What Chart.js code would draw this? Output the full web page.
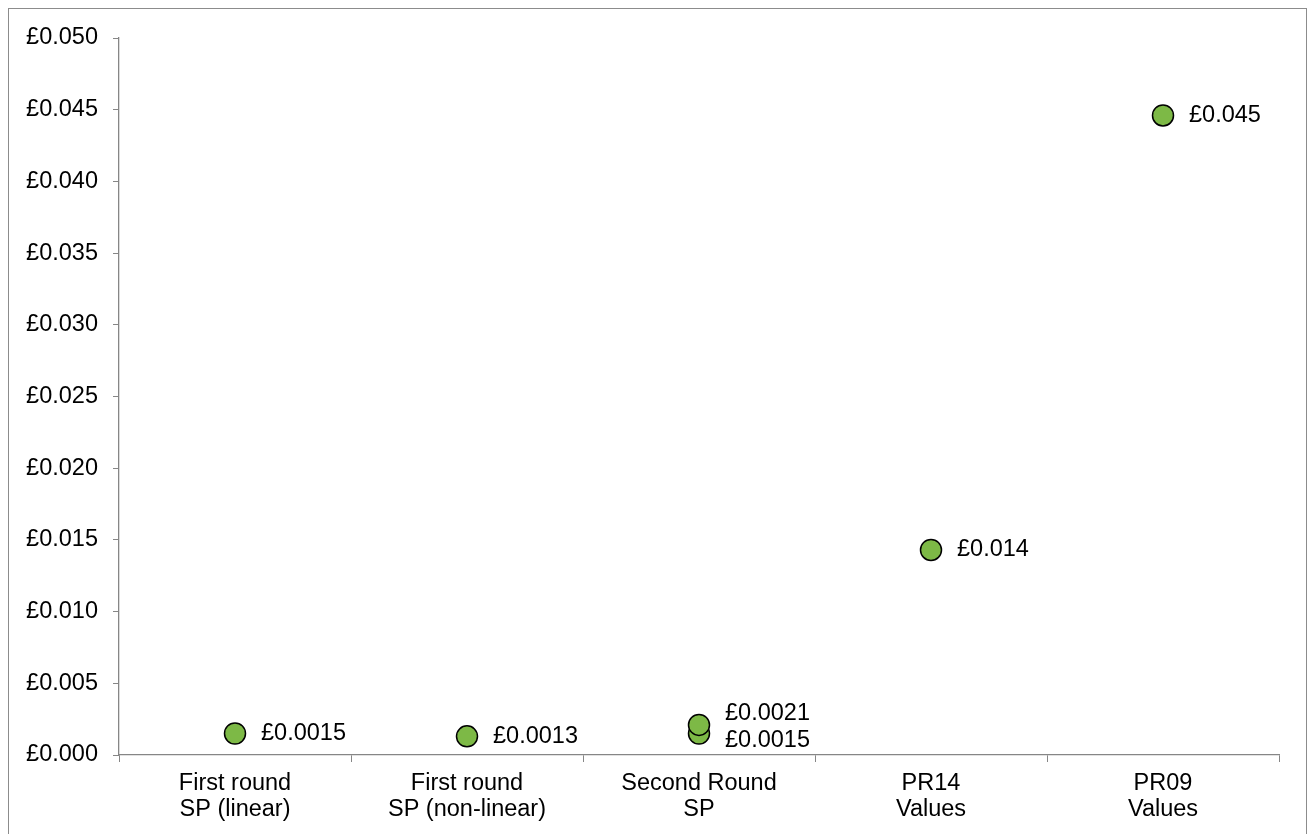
<!DOCTYPE html>
<html>
<head>
<meta charset="utf-8">
<script src="https://cdn.jsdelivr.net/npm/chart.js@4/dist/chart.umd.min.js"></script>
<style>
  html, body { margin: 0; padding: 0; background: #fff; overflow: hidden; }
</style>
</head>
<body>
<canvas id="myChart" width="1309" height="834"></canvas>
<script>
const categories = [
  ['First round', 'SP (linear)'],
  ['First round', 'SP (non-linear)'],
  ['Second Round', 'SP'],
  ['PR14', 'Values'],
  ['PR09', 'Values']
];
const costPerUnit = [0.0015, 0.0013, 0.0021, 0.0143, 0.0446];
const secondRoundLow = [null, null, 0.0015, null, null];
const yTickValues = [0, 0.005, 0.010, 0.015, 0.020, 0.025, 0.030, 0.035, 0.040, 0.045, 0.050];

const FONT = { family: '"Liberation Sans", Arial, sans-serif', size: 23.5 };
const AXIS_GREY = '#868686';

// the two second-round labels sit apart so they don't overlap
const labelNudge = { '0-2': -11, '1-2': 7 };

const pointLabels = {
  id: 'pointLabels',
  beforeDraw(chart) {
    const ctx = chart.ctx;
    ctx.save();
    ctx.strokeStyle = '#8c8c8c';
    ctx.lineWidth = 1;
    ctx.strokeRect(8.5, 8.5, 1298, 1000);
    ctx.restore();
  },
  afterDatasetsDraw(chart) {
    const ctx = chart.ctx;
    ctx.save();
    ctx.font = FONT.size + 'px ' + FONT.family;
    ctx.fillStyle = '#000';
    ctx.textBaseline = 'middle';
    ctx.textAlign = 'left';
    chart.data.datasets.forEach((ds, i) => {
      chart.getDatasetMeta(i).data.forEach((pt, j) => {
        const v = ds.data[j];
        if (v == null) return;
        const dy = labelNudge[i + '-' + j] || 0;
        ctx.fillText('£' + v.toPrecision(2), pt.x + 26, pt.y + dy);
      });
    });
    ctx.restore();
  }
};

const pointStyle = {
  showLine: false,
  pointRadius: 10.5,
  pointHoverRadius: 10.5,
  pointBackgroundColor: '#7db946',
  pointBorderColor: '#000',
  pointBorderWidth: 1.5
};

new Chart(document.getElementById('myChart'), {
  type: 'line',
  data: {
    labels: categories,
    datasets: [
      Object.assign({ label: 'Cost', data: costPerUnit }, pointStyle),
      Object.assign({ label: 'Second round (low)', data: secondRoundLow }, pointStyle)
    ]
  },
  options: {
    responsive: false,
    animation: false,
    devicePixelRatio: 1,
    layout: { padding: { top: 38, right: 30, left: 0, bottom: 0 } },
    plugins: {
      legend: { display: false },
      tooltip: { enabled: false }
    },
    scales: {
      x: {
        offset: true,
        grid: { offset: true, drawOnChartArea: false, tickLength: 7, color: AXIS_GREY, lineWidth: 1 },
        border: { color: AXIS_GREY, width: 1.3 },
        ticks: { color: '#000', font: Object.assign({ lineHeight: 1.1 }, FONT), padding: 9, maxRotation: 0, autoSkip: false },
        afterFit(scale) { scale.height = 79; }
      },
      y: {
        min: 0,
        max: 0.05,
        afterBuildTicks(scale) { scale.ticks = yTickValues.map(v => ({ value: v })); },
        grid: { drawOnChartArea: false, tickLength: 6, color: AXIS_GREY, lineWidth: 1 },
        border: { color: AXIS_GREY, width: 1.3 },
        ticks: { color: '#000', font: FONT, padding: 15, callback: v => '£' + v.toFixed(3) },
        afterFit(scale) { scale.width = 119; }
      }
    }
  },
  plugins: [pointLabels]
});
</script>
</body>
</html>
